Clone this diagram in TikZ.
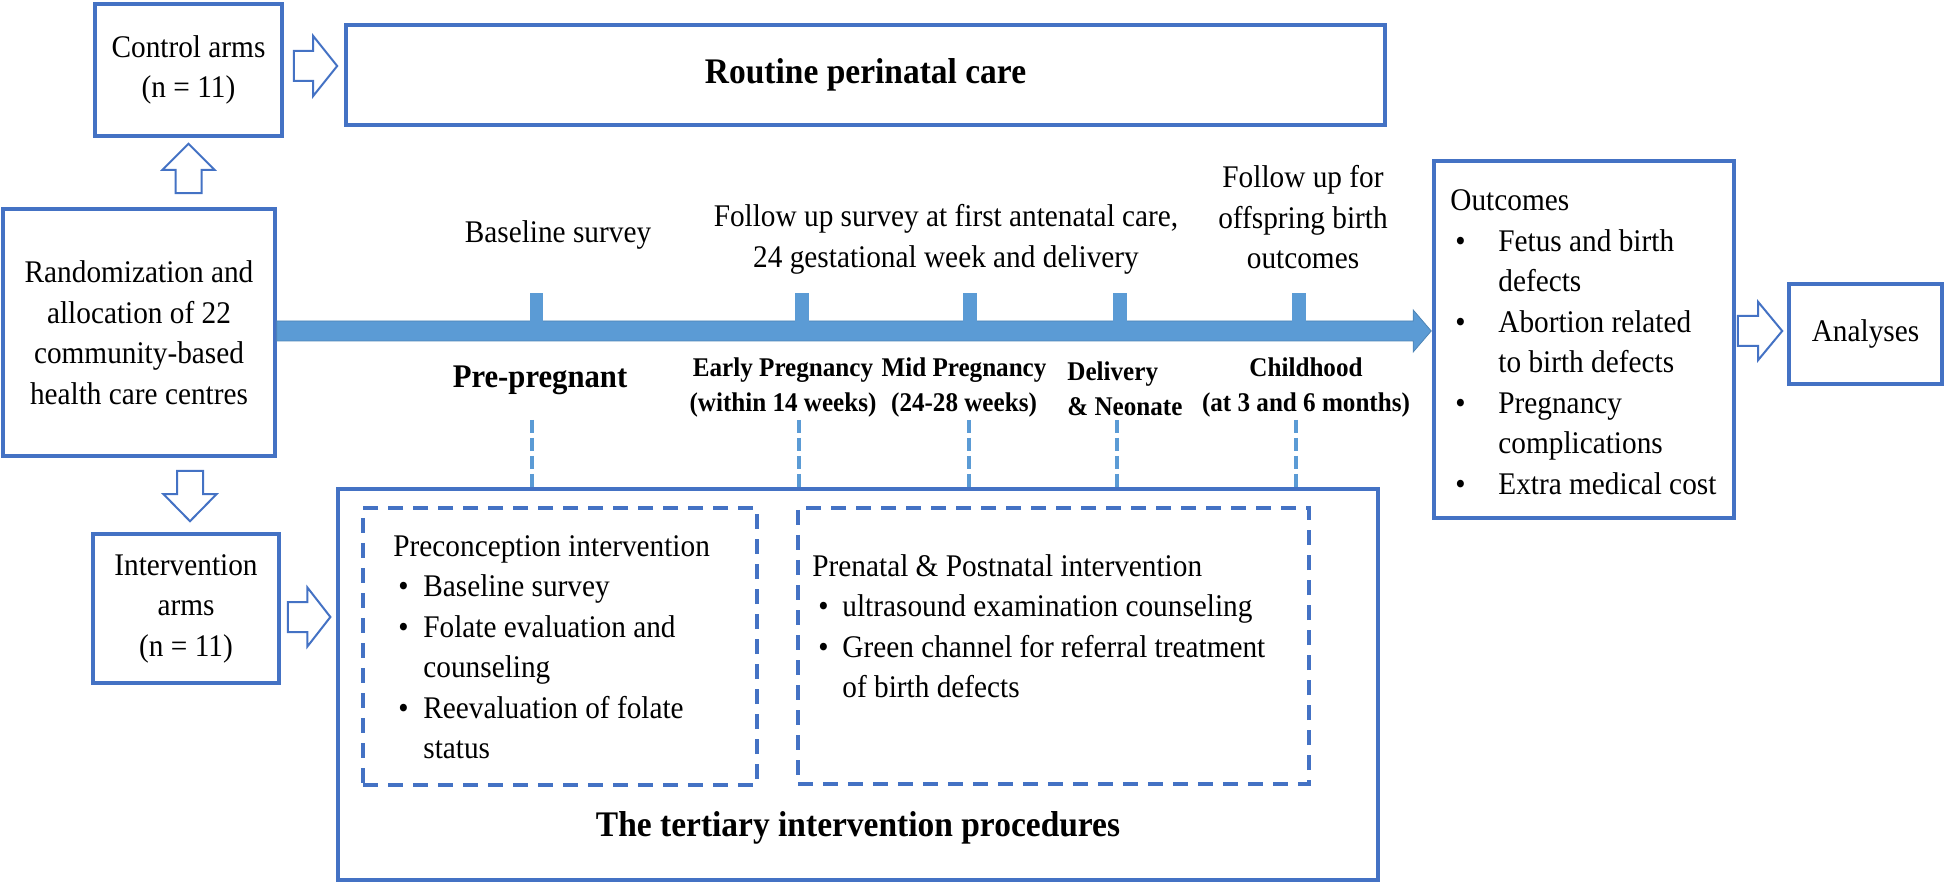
\documentclass[tikz,border=0pt]{standalone}
\usepackage{fontspec}
\setmainfont{Liberation Serif}[FakeStretch=0.93]
\usetikzlibrary{calc}
\definecolor{bblue}{RGB}{68,114,196}
\definecolor{lblue}{RGB}{91,155,213}
\newcommand\fsreg{\fontsize{15.75}{20.25}\selectfont}
\newcommand\fssmb{\fontsize{13.5}{17.5}\selectfont\bfseries}
\newcommand\fsbig{\fontsize{18}{22}\selectfont\bfseries}
\newcommand\fspre{\fontsize{16.5}{20}\selectfont\bfseries}
% #1 style, #2 tail, #3 tip, #4 shaft half width, #5 head half width, #6 head length
\newcommand\blkarrow[6]{%
  \coordinate (bc) at ($(#3)!#6!(#2)$);
  \draw[#1] ($(#2)!#4!90:(#3)$) -- ($(bc)!#4!90:(#3)$) -- ($(bc)!#5!90:(#3)$) -- (#3)
    -- ($(bc)!#5!-90:(#3)$) -- ($(bc)!#4!-90:(#3)$) -- ($(#2)!#4!-90:(#3)$) -- cycle;}
\begin{document}
\begin{tikzpicture}[x=0.5pt,y=-0.5pt,
  box/.style={draw=bblue,line width=1.8pt,inner sep=0pt,align=center,font=\fsreg},
  dbox/.style={draw=bblue,line width=1.6pt,inner sep=0pt,dash pattern=on 7.5pt off 5pt},
  harrow/.style={draw=bblue,line width=1pt,fill=white,line join=miter},
  tline/.style={fill=lblue,draw=lblue!85!black,line width=0.4pt},
  vdash/.style={draw=lblue,line width=1.6pt,dash pattern=on 6.5pt off 2.5pt},
  txt/.style={inner sep=0pt,font=\fsreg},
  lab/.style={inner sep=0pt,font=\fssmb},
]
\useasboundingbox (0,0) rectangle (1946,886);

% boxes
\node[box,minimum width=93.5pt,minimum height=66pt] (ctrl) at (188.5,70) {Control arms\\(n = 11)};
\node[box,minimum width=519.5pt,minimum height=50pt,font=\fsbig] (routine) at (865.5,75) {Routine perinatal care};
\node[box,minimum width=136pt,minimum height=123.5pt] (rand) at (139,332.5) {Randomization and\\allocation of 22\\community-based\\health care centres};
\node[box,minimum width=93pt,minimum height=74.5pt] (interv) at (186,608.5) {Intervention\\arms\\(n = 11)};
\node[box,line width=1.6pt,minimum width=520pt,minimum height=195.5pt] (tert) at (858,684.5) {};
\node[dbox,minimum width=197pt,minimum height=138.5pt] (pre) at (560,646.5) {};
\node[dbox,minimum width=255.5pt,minimum height=138pt] (post) at (1053.5,646) {};
\node[box,minimum width=150pt,minimum height=178.5pt] (outc) at (1584,339.5) {};
\node[box,minimum width=76.5pt,minimum height=50pt] (anal) at (1865.5,334) {Analyses};

% texts inside big boxes
\node[txt,font=\fsbig] (terttitle) at (858,828) {The tertiary intervention procedures};
\node[txt,anchor=base west] (pretext) at (393,556) {\begin{tabular}[t]{@{}p{15pt}@{}l@{}}
\multicolumn{2}{@{}l@{}}{Preconception intervention}\\
\hspace*{2.5pt}• & Baseline survey\\
\hspace*{2.5pt}• & Folate evaluation and\\
 & counseling\\
\hspace*{2.5pt}• & Reevaluation of folate\\
 & status
\end{tabular}};
\node[txt,anchor=base west] (posttext) at (812,576) {\begin{tabular}[t]{@{}p{15pt}@{}l@{}}
\multicolumn{2}{@{}l@{}}{Prenatal \& Postnatal intervention}\\
\hspace*{3pt}• & ultrasound examination counseling\\
\hspace*{3pt}• & Green channel for referral treatment\\
 & of birth defects
\end{tabular}};
\node[txt,anchor=base west] (outtext) at (1450,211) {\begin{tabular}[t]{@{}p{24pt}@{}l@{}}
\multicolumn{2}{@{}l@{}}{Outcomes}\\
\hspace*{2.5pt}• & Fetus and birth\\
 & defects\\
\hspace*{2.5pt}• & Abortion related\\
 & to birth defects\\
\hspace*{2.5pt}• & Pregnancy\\
 & complications\\
\hspace*{2.5pt}• & Extra medical cost
\end{tabular}};

% timeline
\coordinate (tl0) at ($(rand.east)+(0,-1.5)$);
\coordinate (tl1) at ($(outc.west |- tl0)+(-1,0)$);
\blkarrow{tline}{tl0}{tl1}{5pt}{10.5pt}{9pt}
\foreach \x in {536.5,802,970,1120,1299}
  \fill[lblue] (\x-6.75,293) rectangle (\x+6.75,325);

% labels above timeline
\node[txt,anchor=base] (bsl) at (558,243) {Baseline survey};
\node[txt,anchor=base] (fus) at (946,227) {\begin{tabular}[t]{@{}c@{}}Follow up survey at first antenatal care,\\24 gestational week and delivery\end{tabular}};
\node[txt,anchor=base] (fuo) at (1303,188) {\begin{tabular}[t]{@{}c@{}}Follow up for\\offspring birth\\outcomes\end{tabular}};

% labels below timeline
\node[inner sep=0pt,font=\fspre,anchor=base] (lpre) at (540,388) {Pre-pregnant};
\node[lab,anchor=base] (learly) at (783,377) {\begin{tabular}[t]{@{}c@{}}Early Pregnancy\\(within 14 weeks)\end{tabular}};
\node[lab,anchor=base] (lmid) at (964,377) {\begin{tabular}[t]{@{}c@{}}Mid Pregnancy\\(24-28 weeks)\end{tabular}};
\node[lab,anchor=base west] (ldel) at (1067,381) {\begin{tabular}[t]{@{}l@{}}Delivery\\\& Neonate\end{tabular}};
\node[lab,anchor=base] (lchild) at (1306,377) {\begin{tabular}[t]{@{}c@{}}Childhood\\(at 3 and 6 months)\end{tabular}};

% dashed drop lines
\foreach \x [count=\i] in {532,799,969,1117,1296} {
  \coordinate (v\i) at (\x,420);
  \draw[vdash] (v\i) -- (v\i |- tert.north);
}

% block arrows
\coordinate (ca0) at ($(ctrl.east)+(10,-4)$);
\coordinate (ca1) at ($(routine.west |- ca0)+(-7,0)$);
\blkarrow{harrow}{ca0}{ca1}{7.5pt}{15pt}{12pt}
\coordinate (ua0) at ($(ctrl.south |- rand.north)+(0,-14)$);
\coordinate (ua1) at ($(ctrl.south)+(0,6)$);
\blkarrow{harrow}{ua0}{ua1}{6.5pt}{13pt}{13pt}
\coordinate (da0) at ($(rand.south)+(51,13)$);
\coordinate (da1) at ($(da0 |- interv.north)+(0,-11)$);
\blkarrow{harrow}{da0}{da1}{6.5pt}{13.25pt}{13.5pt}
\coordinate (ia0) at ($(interv.east)+(7,8.5)$);
\coordinate (ia1) at ($(tert.west |- ia0)+(-6,0)$);
\blkarrow{harrow}{ia0}{ia1}{7.5pt}{14.75pt}{11.5pt}
\coordinate (oa0) at ($(outc.east)+(2,-8.5)$);
\coordinate (oa1) at ($(anal.west |- oa0)+(-5,0)$);
\blkarrow{harrow}{oa0}{oa1}{7.5pt}{14.5pt}{12pt}
\end{tikzpicture}
\end{document}
